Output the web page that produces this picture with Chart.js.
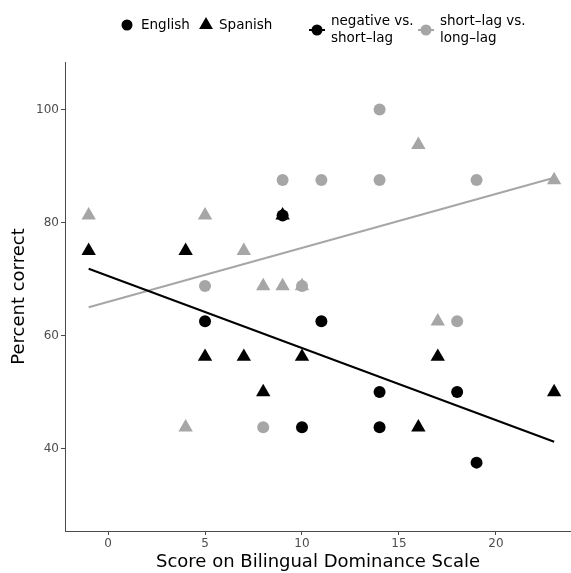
<!DOCTYPE html>
<html>
<head>
<meta charset="utf-8">
<script src="https://cdn.jsdelivr.net/npm/chart.js@4"></script>
<style>
  html, body { margin: 0; padding: 0; background: #fff; overflow: hidden; }
  canvas { display: block; }
</style>
</head>
<body>
<canvas id="dominanceChart" width="571" height="573"></canvas>
<script>
// Scores and percent correct, split by contrast group and language
const negEnglishX = [5, 9, 11, 10, 14, 14, 18, 19];
const negEnglishY = [62.5, 81.25, 62.5, 43.75, 50, 43.75, 50, 37.5];
const negSpanishX = [-1, 4, 5, 7, 8, 10, 9, 16, 17, 23];
const negSpanishY = [75, 75, 56.25, 56.25, 50, 56.25, 81.25, 43.75, 56.25, 50];

const lagEnglishX = [14, 9, 11, 14, 19, 5, 10, 18, 8];
const lagEnglishY = [100, 87.5, 87.5, 87.5, 87.5, 68.75, 68.75, 62.5, 43.75];
const lagSpanishX = [-1, 5, 7, 8, 9, 10, 16, 23, 17, 4];
const lagSpanishY = [81.25, 81.25, 75, 68.75, 68.75, 68.75, 93.75, 87.5, 62.5, 43.75];

// fitted trend lines at the ends of the score range
const fitX = [-1, 23];
const negFitY = [71.8, 41.2];
const lagFitY = [65.0, 87.9];

const xTicks = [0, 5, 10, 15, 20];
const yTicks = [40, 60, 80, 100];

const BLACK = "#000000";
const GREY = "#a6a6a6";
const AXIS = "#4a4a4a";
const FONT = "'DejaVu Sans', sans-serif";

const pts = (xs, ys) => xs.map((x, i) => ({ x: x, y: ys[i] }));

function pointSet(label, xs, ys, color, style) {
    return {
        label: label,
        data: pts(xs, ys),
        pointStyle: style,
        pointRadius: style === "triangle" ? 8.3 : 6,
        pointBackgroundColor: color,
        pointBorderWidth: 0,
        showLine: false
    };
}

function fitLine(label, ys, color) {
    return {
        label: label,
        data: pts(fitX, ys),
        showLine: true,
        borderColor: color,
        borderWidth: 2,
        pointRadius: 0
    };
}

// legend drawn above the plot: shape key then colour key
const topLegend = {
    id: "topLegend",
    afterDraw(chart) {
        const ctx = chart.ctx;
        ctx.save();
        ctx.font = "13.5px " + FONT;
        ctx.textBaseline = "middle";
        ctx.textAlign = "left";

        ctx.fillStyle = BLACK;
        ctx.beginPath();
        ctx.arc(127, 25, 5.5, 0, Math.PI * 2);
        ctx.fill();
        ctx.fillText("English", 141, 25);

        const r = 8;
        ctx.beginPath();
        ctx.moveTo(206, 25 - r);
        ctx.lineTo(206 + r * 0.866, 25 + r / 2);
        ctx.lineTo(206 - r * 0.866, 25 + r / 2);
        ctx.closePath();
        ctx.fill();
        ctx.fillText("Spanish", 219, 25);

        const keys = [
            { x: 317, color: BLACK, lines: ["negative vs.", "short\u2013lag"] },
            { x: 426, color: GREY, lines: ["short\u2013lag vs.", "long\u2013lag"] }
        ];
        keys.forEach(k => {
            ctx.strokeStyle = k.color;
            ctx.fillStyle = k.color;
            ctx.lineWidth = 2;
            ctx.beginPath();
            ctx.moveTo(k.x - 8, 30);
            ctx.lineTo(k.x + 8, 30);
            ctx.stroke();
            ctx.beginPath();
            ctx.arc(k.x, 30, 5.5, 0, Math.PI * 2);
            ctx.fill();
            ctx.fillStyle = BLACK;
            ctx.fillText(k.lines[0], k.x + 14, 21.5);
            ctx.fillText(k.lines[1], k.x + 14, 38);
        });
        ctx.restore();
    }
};

const ctx = document.getElementById("dominanceChart").getContext("2d");
new Chart(ctx, {
    type: "scatter",
    data: {
        datasets: [
            fitLine("negative vs. short-lag fit", negFitY, BLACK),
            fitLine("short-lag vs. long-lag fit", lagFitY, GREY),
            pointSet("negative vs. short-lag, Spanish", negSpanishX, negSpanishY, BLACK, "triangle"),
            pointSet("negative vs. short-lag, English", negEnglishX, negEnglishY, BLACK, "circle"),
            pointSet("short-lag vs. long-lag, Spanish", lagSpanishX, lagSpanishY, GREY, "triangle"),
            pointSet("short-lag vs. long-lag, English", lagEnglishX, lagEnglishY, GREY, "circle")
        ]
    },
    options: {
        responsive: false,
        animation: false,
        // plot area runs to the right edge of the canvas
        layout: { autoPadding: false, padding: { top: 62, right: 0, left: 0, bottom: 0 } },
        plugins: {
            legend: { display: false },
            tooltip: { enabled: false }
        },
        scales: {
            x: {
                type: "linear",
                min: -2.22,
                max: 23.87,
                afterBuildTicks: s => { s.ticks = xTicks.map(v => ({ value: v })); },
                afterFit: s => { s.height = 42; },
                grid: { drawOnChartArea: false, drawTicks: true, tickLength: 4, color: AXIS },
                border: { color: AXIS, width: 1 },
                ticks: { color: "#4d4d4d", font: { family: FONT, size: 12 }, padding: 2, maxRotation: 0 },
                title: {
                    display: true,
                    text: "Score on Bilingual Dominance Scale",
                    color: BLACK,
                    font: { family: FONT, size: 18 },
                    padding: { top: 0, bottom: 0 }
                }
            },
            y: {
                type: "linear",
                min: 25.4,
                max: 108.4,
                afterBuildTicks: s => { s.ticks = yTicks.map(v => ({ value: v })); },
                afterFit: s => { s.width = 65; },
                grid: { drawOnChartArea: false, drawTicks: true, tickLength: 4, color: AXIS },
                border: { color: AXIS, width: 1 },
                ticks: { color: "#4d4d4d", font: { family: FONT, size: 12 }, padding: 2 },
                title: {
                    display: true,
                    text: "Percent correct",
                    color: BLACK,
                    font: { family: FONT, size: 18 },
                    padding: { top: 9, bottom: 0 }
                }
            }
        }
    },
    plugins: [topLegend]
});
</script>
</body>
</html>
